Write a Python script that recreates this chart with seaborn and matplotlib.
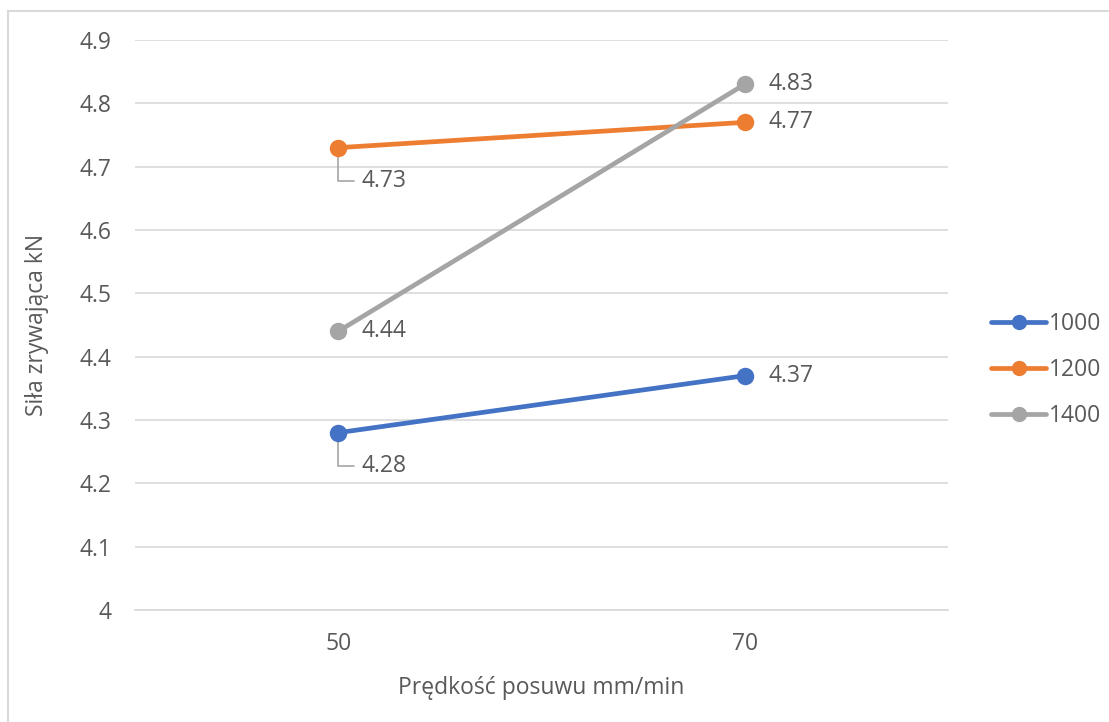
import matplotlib
matplotlib.use("Agg")
import matplotlib.pyplot as plt
import seaborn as sns
import pandas as pd
from matplotlib.lines import Line2D

speeds = ["50", "70"]
series_names = ["1000", "1200", "1400"]
vals_1000 = [4.28, 4.37]
vals_1200 = [4.73, 4.77]
vals_1400 = [4.44, 4.83]
yticks = [4.0, 4.1, 4.2, 4.3, 4.4, 4.5, 4.6, 4.7, 4.8, 4.9]
ytick_labels = ["4", "4.1", "4.2", "4.3", "4.4", "4.5", "4.6", "4.7", "4.8", "4.9"]
colors = ["#4472C4", "#ED7D31", "#A5A5A5"]

rows = []
for name, vals in zip(series_names, [vals_1000, vals_1200, vals_1400]):
    for s, v in zip(speeds, vals):
        rows.append({"speed": s, "force": v, "rpm": name})
df = pd.DataFrame(rows)

sns.set_theme(style="white")
plt.rcParams["font.family"] = ["Open Sans", "DejaVu Sans"]
text_color = "#595959"
fs = 16.5

fig = plt.figure(figsize=(11.09, 7.22), dpi=100)
ax = fig.add_axes([135 / 1109, 1 - 610 / 722, (948 - 135) / 1109, (610 - 40) / 722])

sns.pointplot(data=df, x="speed", y="force", hue="rpm", order=speeds,
              hue_order=series_names, palette=colors, ax=ax,
              markers="o", markersize=10, linewidth=3.4, legend=False, zorder=3)

ax.set_xlim(-0.5, 1.5)
ax.set_ylim(4.0, 4.9)
ax.set_yticks(yticks)
ax.set_yticklabels(ytick_labels)
ax.yaxis.grid(True, color="#D9D9D9", linewidth=1.2)
ax.set_axisbelow(True)
for side in ["top", "right", "left"]:
    ax.spines[side].set_visible(False)
ax.spines["bottom"].set_color("#D9D9D9")
ax.spines["bottom"].set_linewidth(1.2)
ax.tick_params(axis="y", length=0, labelsize=fs, colors=text_color, pad=17)
ax.tick_params(axis="x", length=0, labelsize=fs, colors=text_color, pad=16)
ax.set_xlabel("Prędkość posuwu mm/min", fontsize=fs, color=text_color, labelpad=14)
ax.set_ylabel("Siła zrywająca kN", fontsize=fs, color=text_color, labelpad=22)

# data labels
for name, vals in zip(series_names, [vals_1000, vals_1200, vals_1400]):
    for i, v in enumerate(vals):
        lab = f"{v:.2f}"
        if (name == "1000" and i == 0) or (name == "1200" and i == 0):
            ax.annotate(lab, xy=(i, v), xytext=(17, -24), textcoords="offset points",
                        fontsize=fs, color=text_color, va="center", ha="left",
                        arrowprops=dict(arrowstyle="-", color="#A5A5A5", lw=1.2,
                                        connectionstyle="angle,angleA=0,angleB=90,rad=0",
                                        relpos=(0, 0.5), shrinkA=3, shrinkB=0),
                        zorder=2)
        else:
            ax.annotate(lab, xy=(i, v), xytext=(17, 0), textcoords="offset points",
                        fontsize=fs, color=text_color, va="center", ha="left")

handles = [Line2D([0], [0], color=c, lw=3.4, marker="o", markersize=10) for c in colors]
leg = fig.legend(handles, series_names, loc="center left", bbox_to_anchor=(982 / 1109, 1 - 370 / 722),
                 frameon=False, fontsize=fs, labelcolor=text_color, handlelength=2.4,
                 handletextpad=0.1, labelspacing=0.95, borderaxespad=0)

# chart border (top and left visible)
fig.add_artist(Line2D([8 / 1109, 8 / 1109], [0, 1 - 11 / 722], transform=fig.transFigure,
                      color="#D9D9D9", lw=1.5))
fig.add_artist(Line2D([8 / 1109, 1], [1 - 11 / 722, 1 - 11 / 722], transform=fig.transFigure,
                      color="#D9D9D9", lw=1.5))

fig.savefig("out.png", dpi=100)
